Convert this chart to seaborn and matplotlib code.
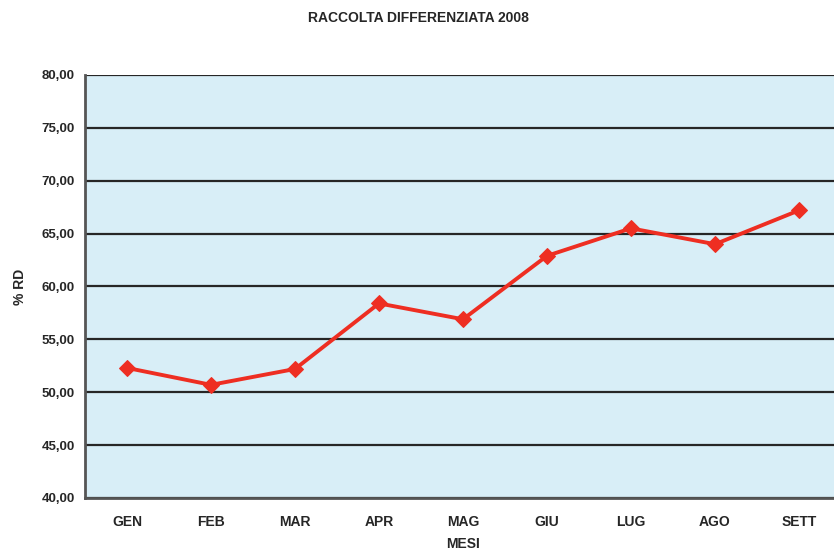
import matplotlib
matplotlib.use("Agg")
import matplotlib.pyplot as plt
import seaborn as sns
import pandas as pd
from matplotlib.ticker import FuncFormatter, MultipleLocator, FixedLocator

months = ["GEN", "FEB", "MAR", "APR", "MAG", "GIU", "LUG", "AGO", "SETT"]
values = [52.3, 50.7, 52.2, 58.4, 56.9, 62.9, 65.5, 64.0, 67.2]

sns.set_style("white")
plt.rcParams['font.family'] = ['Liberation Sans Narrow', 'Liberation Sans', 'DejaVu Sans']

df = pd.DataFrame({"mese": months, "rd": values})
fig = plt.figure(figsize=(8.34, 5.54), dpi=100)
ax = fig.add_axes([85/834, 56/554, 756/834, 423/554])
ax.set_facecolor("#d8eef7")

sns.lineplot(data=df, x="mese", y="rd", ax=ax, color="#ee2e22", lw=2.8,
             marker="D", markersize=8.5, markeredgecolor="#ee2e22", sort=False, zorder=5)

ax.set_ylim(40, 80)
ax.set_xlim(-0.5, len(months) - 0.5)
ax.yaxis.set_major_locator(MultipleLocator(5))
ax.yaxis.set_major_formatter(FuncFormatter(lambda v, p: f"{v:.2f}".replace(".", ",")))
ax.grid(axis="y", color="#262626", lw=1.6)
ax.grid(axis="x", visible=False)
ax.set_axisbelow(True)

ax.xaxis.set_major_locator(FixedLocator(range(len(months))))
ax.set_xticklabels(months)
ax.xaxis.set_minor_locator(FixedLocator([i + 0.5 for i in range(-1, len(months))]))
ax.tick_params(axis="x", which="major", length=0, pad=12, labelsize=10)
ax.tick_params(axis="x", which="minor", length=4, width=1.5, color="#555555", direction="out")
ax.tick_params(axis="y", length=4, width=1.5, color="#555555", direction="out", labelsize=9.5)
for lab in ax.get_xticklabels() + ax.get_yticklabels():
    lab.set_fontweight("bold")

for s in ["top", "right"]:
    ax.spines[s].set_visible(False)
for s in ["left", "bottom"]:
    ax.spines[s].set_color("#555555")
    ax.spines[s].set_linewidth(2)

ax.set_xlabel("MESI", fontweight="bold", fontsize=10, labelpad=6)
ax.set_ylabel("% RD", fontweight="bold", fontsize=10, labelpad=10)
fig.text(418/834, 1 - 18/554, "RACCOLTA DIFFERENZIATA 2008", ha="center", va="center",
         fontweight="bold", fontsize=10)

fig.savefig("out.png", dpi=100)
